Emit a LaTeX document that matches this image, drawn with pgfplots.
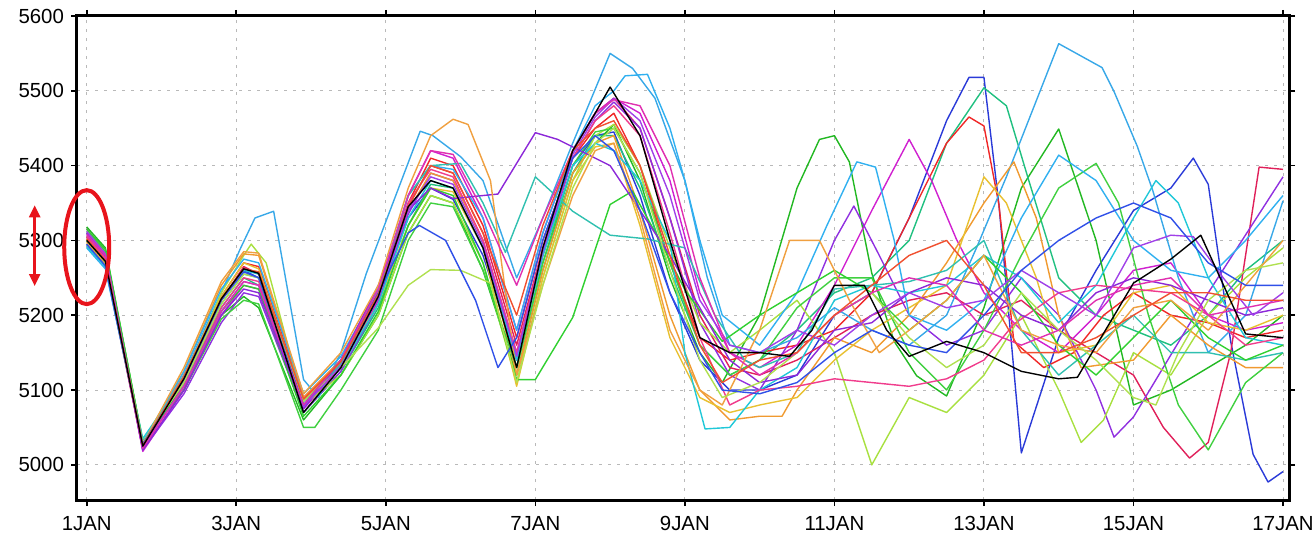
\documentclass[border=0pt]{standalone}
\usepackage{fontspec}
\setmainfont{Liberation Sans}
\usepackage{pgfplots}
\pgfplotsset{compat=1.18}
\usetikzlibrary{arrows.meta}

\definecolor{cgreen}{HTML}{22B822}
\definecolor{cdblue}{HTML}{2A3AD8}
\definecolor{cseagreen}{HTML}{20C080}
\definecolor{cred}{HTML}{F02828}
\definecolor{ccrimson}{HTML}{E0205A}
\definecolor{cmagenta}{HTML}{D020D0}
\definecolor{cviolet}{HTML}{9030E0}
\definecolor{csky}{HTML}{38A8E8}
\definecolor{clime}{HTML}{A8E040}
\definecolor{corange}{HTML}{F09A30}
\definecolor{cyorange}{HTML}{E8C030}
\definecolor{cgreenb}{HTML}{40D040}
\definecolor{cskyb}{HTML}{30B0F0}
\definecolor{ccyan}{HTML}{20C8D8}
\definecolor{cpink}{HTML}{F03C8C}
\definecolor{cteal}{HTML}{30C0B0}
\definecolor{cgreenc}{HTML}{30D030}
\definecolor{cpurple}{HTML}{8C28D8}
\definecolor{corangeb}{HTML}{F0A040}
\definecolor{climeb}{HTML}{B0E050}
\definecolor{cvioletb}{HTML}{A040E8}
\definecolor{cblue}{HTML}{3050E8}
\definecolor{cmagentab}{HTML}{E030B0}
\definecolor{credor}{HTML}{F05030}
\definecolor{annot}{HTML}{E8141C}

\begin{document}
\begin{tikzpicture}
\begin{axis}[
  scale only axis,
  width=606pt, height=242pt,
  xmin=0.87, xmax=17.08,
  ymin=4953, ymax=5600,
  xtick={1,3,5,7,9,11,13,15,17},
  xticklabels={1JAN,3JAN,5JAN,7JAN,9JAN,11JAN,13JAN,15JAN,17JAN},
  ytick={5000,5100,5200,5300,5400,5500,5600},
  tick align=outside,
  major tick length=3pt,
  tick style={black, line width=0.8pt},
  axis line style={line width=1.5pt},
  grid=major,
  major grid style={gray!55, line width=0.5pt, dash pattern=on 1.5pt off 3pt},
  ticklabel style={font=\fontsize{10.2}{12}\selectfont},
  xticklabel style={yshift=-1.5pt},
  /pgf/number format/assume math mode=true,
  /pgf/number format/set thousands separator={},
  every axis plot/.append style={line width=0.7pt, no markers, line join=round},
  clip=false,
]
% member: dark blue
\addplot[cdblue] coordinates {(1.0,5295)(1.25,5265)(1.75,5025)(2.3,5110)(2.8,5220)(3.1,5260)(3.3,5250)(3.9,5080)(4.4,5130)(4.9,5220)(5.3,5330)(5.6,5370)(5.9,5355)(6.3,5280)(6.75,5140)(7.1,5280)(7.5,5400)(7.8,5440)(8.05,5445)(8.4,5360)(8.8,5230)(9.2,5140)(9.6,5100)(10.0,5100)(10.5,5120)(11.0,5200)(11.5,5230)(12.0,5330)(12.5,5460)(12.8,5518)(13.0,5518)(13.2,5348)(13.5,5016)(14.0,5170)(14.5,5260)(15.0,5340)(15.5,5370)(15.8,5410)(16.0,5375)(16.3,5165)(16.6,5014)(16.8,4977)(17.0,4991)};
% member: green
\addplot[cgreen] coordinates {(1.0,5318)(1.25,5290)(1.75,5030)(2.3,5100)(2.8,5200)(3.1,5225)(3.3,5210)(3.9,5060)(4.4,5120)(4.9,5200)(5.3,5310)(5.6,5360)(5.9,5350)(6.3,5260)(6.75,5120)(7.1,5260)(7.5,5390)(7.8,5430)(8.05,5455)(8.4,5380)(8.8,5250)(9.2,5150)(9.5,5110)(10.0,5200)(10.5,5370)(10.8,5435)(11.0,5440)(11.2,5405)(11.5,5256)(11.8,5165)(12.1,5119)(12.5,5092)(13.0,5210)(13.5,5370)(14.0,5449)(14.5,5300)(15.0,5080)(15.5,5100)(16.0,5130)(16.5,5160)(17.0,5200)};
% member: sea green
\addplot[cseagreen] coordinates {(1.0,5310)(1.25,5280)(1.75,5028)(2.3,5105)(2.8,5210)(3.1,5250)(3.3,5240)(3.9,5070)(4.4,5125)(4.9,5210)(5.3,5320)(5.6,5375)(5.9,5370)(6.3,5290)(6.75,5130)(7.1,5270)(7.5,5390)(7.8,5440)(8.05,5440)(8.4,5370)(8.8,5260)(9.2,5160)(9.6,5120)(10.0,5140)(10.5,5180)(11.0,5230)(11.5,5250)(12.0,5300)(12.5,5430)(13.0,5504)(13.3,5480)(13.6,5380)(14.0,5250)(14.5,5200)(15.0,5180)(15.5,5160)(16.0,5200)(16.5,5260)(17.0,5300)};
% member: red
\addplot[cred] coordinates {(1.0,5305)(1.25,5275)(1.75,5022)(2.3,5120)(2.8,5225)(3.1,5270)(3.3,5265)(3.9,5090)(4.4,5140)(4.9,5230)(5.3,5350)(5.6,5410)(5.9,5400)(6.3,5320)(6.75,5170)(7.1,5300)(7.5,5410)(7.8,5450)(8.05,5470)(8.4,5400)(8.8,5270)(9.2,5170)(9.6,5140)(10.0,5150)(10.5,5160)(11.0,5180)(11.5,5230)(12.0,5330)(12.5,5430)(12.8,5465)(13.0,5453)(13.2,5348)(13.4,5165)(13.8,5130)(14.2,5150)(14.6,5200)(15.0,5230)(15.5,5200)(16.0,5190)(16.5,5170)(17.0,5180)};
% member: crimson
\addplot[ccrimson] coordinates {(1.0,5300)(1.25,5270)(1.75,5020)(2.3,5115)(2.8,5220)(3.1,5265)(3.3,5255)(3.9,5085)(4.4,5135)(4.9,5225)(5.3,5345)(5.6,5400)(5.9,5390)(6.3,5310)(6.75,5160)(7.1,5290)(7.5,5420)(7.8,5470)(8.05,5490)(8.4,5450)(8.8,5330)(9.2,5200)(9.6,5130)(10.0,5120)(10.5,5140)(11.0,5170)(11.5,5200)(12.0,5220)(12.5,5230)(13.0,5200)(13.5,5220)(14.0,5180)(14.5,5150)(15.0,5120)(15.4,5050)(15.75,5009)(16.0,5030)(16.3,5150)(16.68,5398)(17.0,5395)};
% member: magenta
\addplot[cmagenta] coordinates {(1.0,5315)(1.25,5285)(1.75,5018)(2.3,5100)(2.8,5200)(3.1,5240)(3.3,5235)(3.9,5075)(4.4,5130)(4.9,5220)(5.3,5360)(5.6,5420)(5.9,5410)(6.3,5330)(6.75,5180)(7.1,5310)(7.5,5420)(7.8,5470)(8.05,5490)(8.4,5470)(8.8,5380)(9.2,5230)(9.6,5150)(10.0,5130)(10.5,5160)(11.0,5240)(11.5,5340)(12.0,5435)(12.3,5380)(12.63,5302)(13.0,5230)(13.5,5180)(14.0,5150)(14.5,5200)(15.0,5260)(15.5,5270)(16.0,5200)(16.5,5180)(17.0,5190)};
% member: violet
\addplot[cviolet] coordinates {(1.0,5308)(1.25,5278)(1.75,5020)(2.3,5095)(2.8,5190)(3.1,5230)(3.3,5225)(3.9,5070)(4.4,5125)(4.9,5215)(5.3,5335)(5.6,5390)(5.9,5380)(6.3,5300)(6.75,5150)(7.1,5280)(7.5,5410)(7.8,5460)(8.05,5485)(8.4,5450)(8.8,5330)(9.2,5190)(9.6,5120)(10.0,5100)(10.5,5180)(11.0,5300)(11.26,5346)(11.6,5280)(12.0,5200)(12.5,5160)(13.0,5180)(13.5,5250)(14.0,5200)(14.5,5100)(14.74,5037)(15.0,5064)(16.0,5230)(17.0,5385)};
% member: sky blue
\addplot[csky] coordinates {(1.0,5300)(1.25,5270)(1.75,5030)(2.3,5120)(2.8,5230)(3.05,5288)(3.25,5330)(3.5,5339)(3.9,5114)(4.1,5090)(4.4,5150)(4.74,5256)(5.0,5325)(5.46,5446)(5.63,5440)(6.0,5412)(6.3,5380)(6.75,5250)(7.1,5330)(7.5,5430)(8.0,5550)(8.3,5530)(8.6,5490)(9.0,5380)(9.3,5250)(9.6,5160)(10.0,5150)(10.5,5170)(11.0,5210)(11.5,5180)(12.0,5160)(12.5,5200)(12.9,5290)(13.3,5385)(14.0,5563)(14.58,5531)(14.74,5499)(15.05,5426)(15.26,5366)(15.6,5250)(16.0,5150)(16.5,5200)(17.0,5353)};
% member: lime
\addplot[clime] coordinates {(1.0,5300)(1.25,5270)(1.75,5030)(2.3,5110)(2.8,5230)(3.1,5280)(3.2,5295)(3.4,5270)(3.9,5080)(4.4,5120)(4.9,5200)(5.3,5310)(5.6,5360)(5.9,5350)(6.3,5270)(6.75,5110)(7.1,5250)(7.5,5380)(7.8,5440)(8.05,5455)(8.4,5400)(8.8,5290)(9.2,5190)(9.6,5150)(10.0,5180)(10.5,5220)(11.0,5150)(11.5,5000)(12.0,5090)(12.5,5070)(13.0,5120)(13.5,5200)(14.0,5100)(14.3,5030)(14.6,5060)(15.0,5150)(15.5,5120)(16.0,5200)(16.5,5250)(17.0,5290)};
% member: orange
\addplot[corange] coordinates {(1.0,5302)(1.25,5272)(1.75,5026)(2.3,5125)(2.8,5240)(3.1,5282)(3.3,5280)(3.9,5090)(4.4,5140)(4.9,5230)(5.3,5340)(5.6,5390)(5.9,5380)(6.3,5300)(6.75,5120)(7.1,5260)(7.5,5390)(7.8,5430)(8.05,5440)(8.4,5340)(8.8,5200)(9.2,5100)(9.6,5060)(10.0,5065)(10.3,5065)(10.5,5100)(11.0,5170)(11.5,5150)(12.0,5200)(12.5,5270)(13.0,5350)(13.4,5405)(13.7,5330)(14.0,5200)(14.3,5130)(15.0,5140)(15.5,5200)(16.0,5160)(16.5,5130)(17.0,5130)};
% member: yellow orange
\addplot[cyorange] coordinates {(1.0,5296)(1.25,5268)(1.75,5028)(2.3,5118)(2.8,5225)(3.1,5270)(3.3,5262)(3.9,5085)(4.4,5135)(4.9,5215)(5.3,5320)(5.6,5370)(5.9,5365)(6.3,5290)(6.75,5105)(7.1,5250)(7.5,5380)(7.8,5425)(8.05,5430)(8.4,5320)(8.8,5170)(9.2,5090)(9.6,5070)(10.0,5080)(10.5,5090)(11.0,5140)(11.5,5180)(12.0,5210)(12.5,5240)(13.0,5385)(13.3,5350)(13.7,5250)(14.0,5150)(14.5,5160)(15.0,5230)(15.5,5240)(16.0,5190)(16.5,5180)(17.0,5200)};
% member: green 2
\addplot[cgreenb] coordinates {(1.0,5312)(1.25,5285)(1.75,5032)(2.3,5100)(2.8,5195)(3.1,5220)(3.3,5215)(3.9,5050)(4.05,5050)(4.4,5100)(4.9,5180)(5.3,5300)(5.6,5350)(5.9,5345)(6.3,5260)(6.75,5130)(7.1,5270)(7.5,5400)(7.8,5445)(8.05,5450)(8.4,5390)(8.8,5270)(9.2,5160)(9.6,5120)(10.0,5140)(10.5,5210)(11.0,5250)(11.5,5250)(12.0,5150)(12.5,5100)(13.0,5180)(13.5,5280)(14.0,5370)(14.5,5403)(14.8,5350)(15.2,5200)(15.6,5080)(16.0,5020)(16.5,5110)(17.0,5150)};
% member: sky blue 2
\addplot[cskyb] coordinates {(1.0,5290)(1.25,5262)(1.75,5030)(2.3,5125)(2.8,5235)(3.1,5275)(3.3,5270)(3.9,5095)(4.4,5145)(4.9,5235)(5.3,5360)(5.6,5400)(5.9,5395)(6.3,5330)(6.75,5180)(7.1,5310)(7.5,5420)(7.8,5480)(8.05,5500)(8.2,5520)(8.5,5522)(8.8,5450)(9.0,5380)(9.2,5300)(9.5,5200)(10.0,5160)(10.5,5230)(10.9,5320)(11.3,5405)(11.55,5398)(11.8,5300)(12.0,5200)(12.5,5180)(13.0,5220)(13.5,5330)(14.0,5414)(14.5,5380)(15.0,5300)(15.5,5260)(16.0,5250)(16.5,5300)(17.0,5360)};
% member: cyan
\addplot[ccyan] coordinates {(1.0,5292)(1.25,5265)(1.75,5035)(2.3,5115)(2.8,5220)(3.1,5260)(3.3,5255)(3.9,5085)(4.4,5130)(4.9,5215)(5.3,5330)(5.6,5380)(5.9,5370)(6.3,5290)(6.75,5140)(7.1,5280)(7.5,5400)(7.8,5430)(8.05,5420)(8.4,5380)(8.8,5300)(9.0,5150)(9.27,5048)(9.6,5050)(10.0,5100)(10.5,5130)(11.0,5220)(11.5,5240)(12.0,5230)(12.5,5240)(13.0,5280)(13.5,5250)(14.0,5190)(14.5,5240)(15.0,5330)(15.3,5380)(15.6,5350)(16.0,5250)(16.5,5170)(17.0,5160)};
% member: pink
\addplot[cpink] coordinates {(1.0,5305)(1.25,5276)(1.75,5024)(2.3,5110)(2.8,5210)(3.1,5250)(3.3,5245)(3.9,5080)(4.4,5130)(4.9,5225)(5.3,5350)(5.6,5395)(5.9,5385)(6.3,5300)(6.75,5150)(7.1,5290)(7.5,5410)(7.8,5460)(8.05,5480)(8.4,5440)(8.8,5310)(9.2,5170)(9.6,5080)(10.0,5100)(10.5,5105)(11.0,5115)(11.5,5110)(12.0,5105)(12.5,5115)(13.0,5140)(13.4,5188)(14.0,5230)(14.5,5240)(15.0,5235)(15.5,5230)(16.0,5200)(16.5,5160)(17.0,5170)};
% member: teal
\addplot[cteal] coordinates {(1.0,5300)(1.25,5270)(1.75,5030)(2.3,5110)(2.8,5215)(3.1,5255)(3.3,5250)(3.9,5080)(4.4,5135)(4.9,5230)(5.3,5360)(5.6,5400)(6.0,5403)(6.3,5350)(6.6,5284)(7.0,5385)(7.5,5339)(8.0,5307)(8.5,5302)(9.0,5290)(9.4,5200)(9.8,5140)(10.0,5130)(10.5,5150)(11.0,5235)(11.5,5240)(12.0,5245)(12.5,5260)(13.0,5300)(13.5,5180)(14.0,5120)(14.5,5160)(15.0,5200)(15.5,5150)(16.0,5150)(16.5,5140)(17.0,5150)};
% member: green 3
\addplot[cgreenc] coordinates {(1.0,5315)(1.25,5288)(1.75,5030)(2.3,5105)(2.8,5205)(3.1,5240)(3.3,5235)(3.9,5065)(4.4,5120)(4.9,5205)(5.3,5320)(5.6,5370)(5.9,5360)(6.3,5270)(6.75,5114)(7.0,5114)(7.5,5197)(8.0,5348)(8.3,5366)(8.7,5293)(9.0,5234)(9.5,5165)(10.0,5200)(10.5,5230)(11.0,5260)(11.5,5230)(12.0,5180)(12.5,5220)(13.0,5280)(13.5,5230)(14.0,5160)(14.5,5120)(15.0,5170)(15.5,5220)(16.0,5170)(16.5,5140)(17.0,5160)};
% member: purple
\addplot[cpurple] coordinates {(1.0,5310)(1.25,5280)(1.75,5020)(2.3,5100)(2.8,5200)(3.1,5235)(3.3,5230)(3.9,5075)(4.4,5140)(4.9,5240)(5.3,5340)(5.6,5370)(5.9,5356)(6.3,5360)(6.5,5362)(7.0,5444)(7.3,5435)(7.6,5420)(8.0,5400)(8.4,5340)(8.8,5280)(9.2,5210)(9.6,5140)(10.0,5110)(10.5,5120)(11.0,5180)(11.5,5190)(12.0,5230)(12.5,5250)(13.0,5240)(13.5,5200)(14.0,5180)(14.5,5230)(15.0,5250)(15.5,5240)(16.0,5220)(16.5,5200)(17.0,5210)};
% member: orange 2
\addplot[corangeb] coordinates {(1.0,5298)(1.25,5270)(1.75,5028)(2.3,5130)(2.8,5245)(3.1,5285)(3.3,5283)(3.9,5095)(4.4,5150)(4.9,5240)(5.3,5370)(5.6,5440)(5.9,5462)(6.1,5455)(6.4,5380)(6.75,5120)(7.1,5240)(7.5,5360)(7.8,5420)(8.05,5430)(8.4,5330)(8.8,5180)(9.2,5100)(9.5,5080)(10.0,5180)(10.4,5300)(10.8,5300)(11.2,5220)(11.6,5150)(12.0,5180)(12.5,5220)(13.0,5280)(13.5,5180)(14.0,5160)(14.5,5150)(15.0,5210)(15.5,5220)(16.0,5180)(16.5,5240)(17.0,5300)};
% member: lime 2
\addplot[climeb] coordinates {(1.0,5300)(1.25,5272)(1.75,5030)(2.3,5110)(2.8,5215)(3.1,5255)(3.3,5250)(3.9,5085)(4.4,5130)(4.9,5183)(5.3,5240)(5.6,5261)(6.0,5260)(6.4,5243)(6.75,5110)(7.1,5240)(7.5,5370)(7.8,5430)(8.05,5450)(8.4,5390)(8.8,5260)(9.2,5140)(9.5,5090)(10.0,5110)(10.5,5150)(11.0,5200)(11.5,5230)(12.0,5170)(12.5,5130)(13.0,5160)(13.5,5230)(14.0,5180)(14.5,5140)(15.0,5090)(15.3,5080)(15.6,5150)(16.0,5220)(16.5,5260)(17.0,5270)};
% member: violet 2
\addplot[cvioletb] coordinates {(1.0,5312)(1.25,5282)(1.75,5024)(2.3,5105)(2.8,5205)(3.1,5245)(3.3,5240)(3.9,5078)(4.4,5132)(4.9,5222)(5.3,5340)(5.6,5385)(5.9,5375)(6.3,5295)(6.75,5145)(7.1,5285)(7.5,5415)(7.8,5465)(8.05,5490)(8.4,5460)(8.8,5360)(9.2,5220)(9.6,5160)(10.0,5150)(10.5,5180)(11.0,5160)(11.5,5200)(12.0,5230)(12.5,5210)(13.0,5220)(13.5,5260)(14.0,5230)(14.5,5200)(15.0,5290)(15.5,5307)(15.8,5305)(16.2,5250)(16.6,5200)(17.0,5230)};
% member: blue
\addplot[cblue] coordinates {(1.0,5295)(1.25,5266)(1.75,5028)(2.3,5115)(2.8,5220)(3.1,5258)(3.3,5250)(3.9,5080)(4.4,5140)(4.9,5230)(5.3,5310)(5.45,5320)(5.8,5300)(6.2,5220)(6.5,5130)(6.75,5170)(7.1,5300)(7.5,5410)(7.8,5440)(8.05,5420)(8.4,5340)(8.8,5230)(9.2,5150)(9.5,5100)(10.0,5095)(10.5,5110)(11.0,5150)(11.5,5180)(12.0,5160)(12.5,5150)(13.0,5200)(13.5,5260)(14.0,5300)(14.5,5330)(15.0,5350)(15.5,5330)(16.0,5270)(16.5,5240)(17.0,5240)};
% member: magenta 2
\addplot[cmagentab] coordinates {(1.0,5308)(1.25,5280)(1.75,5022)(2.3,5105)(2.8,5205)(3.1,5245)(3.3,5240)(3.9,5080)(4.4,5140)(4.9,5235)(5.3,5360)(5.6,5420)(5.9,5415)(6.3,5340)(6.75,5240)(7.1,5330)(7.5,5420)(7.8,5470)(8.05,5488)(8.4,5480)(8.8,5400)(9.2,5250)(9.6,5150)(10.0,5120)(10.5,5150)(11.0,5200)(11.5,5230)(12.0,5250)(12.5,5240)(13.0,5180)(13.5,5160)(14.0,5180)(14.5,5220)(15.0,5240)(15.5,5250)(16.0,5200)(16.5,5210)(17.0,5220)};
% member: red orange
\addplot[credor] coordinates {(1.0,5302)(1.25,5273)(1.75,5026)(2.3,5118)(2.8,5222)(3.1,5262)(3.3,5258)(3.9,5088)(4.4,5138)(4.9,5228)(5.3,5345)(5.6,5400)(5.9,5390)(6.3,5310)(6.75,5200)(7.1,5320)(7.5,5420)(7.8,5450)(8.05,5460)(8.4,5400)(8.8,5280)(9.2,5160)(9.5,5110)(10.0,5140)(10.5,5150)(11.0,5200)(11.5,5240)(12.0,5280)(12.5,5300)(13.0,5240)(13.5,5150)(14.0,5150)(14.5,5170)(15.0,5200)(15.5,5230)(16.0,5230)(16.5,5220)(17.0,5220)};
% member: black
\addplot[black] coordinates {(1.0,5300)(1.25,5272)(1.75,5025)(2.3,5115)(2.8,5222)(3.1,5262)(3.3,5256)(3.9,5070)(4.4,5130)(4.9,5225)(5.3,5345)(5.6,5380)(5.9,5370)(6.3,5290)(6.75,5130)(7.1,5290)(7.5,5420)(7.8,5470)(8.0,5505)(8.4,5440)(8.8,5300)(9.2,5170)(9.6,5150)(10.0,5150)(10.4,5145)(10.7,5180)(11.0,5240)(11.4,5240)(11.7,5180)(12.0,5145)(12.5,5165)(13.0,5150)(13.5,5125)(14.0,5115)(14.25,5117)(15.0,5243)(15.5,5275)(15.9,5307)(16.5,5175)(17.0,5170)};

% annotation: ellipse round the initial spread and the double arrow
\draw[annot, line width=2pt] (axis cs:1.0,5291) ellipse [x radius=11.25pt, y radius=28.5pt];
\draw[annot, line width=1.2pt, {Triangle[length=6pt,width=5.5pt]}-{Triangle[length=6pt,width=5.5pt]}]
  (axis cs:0.304,5347) -- (axis cs:0.304,5239);
\end{axis}
\pgfresetboundingbox
\path[use as bounding box] ([xshift=-38.5pt,yshift=-18.5pt]current axis.south west)
  rectangle ([xshift=12pt,yshift=8pt]current axis.north east);
\end{tikzpicture}
\end{document}
